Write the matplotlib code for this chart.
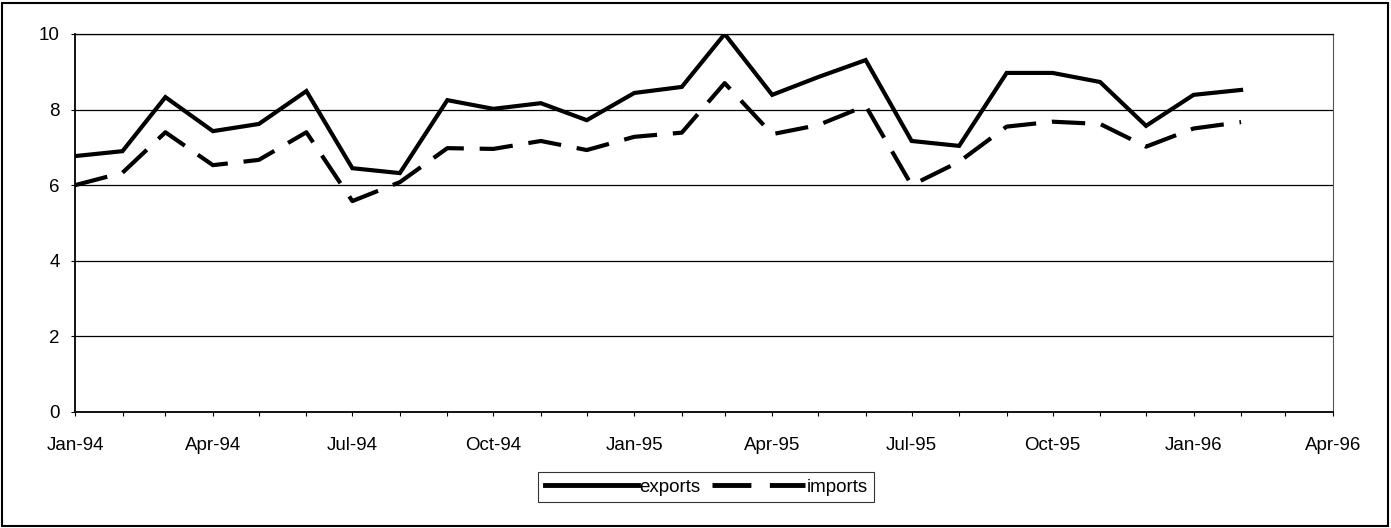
import pandas as pd
import matplotlib.pyplot as plt
import matplotlib.dates as mdates
from matplotlib.patches import Rectangle

plt.rcParams['font.family'] = ['Liberation Sans', 'DejaVu Sans']

# monthly data, Jan-94 .. Feb-96
months = pd.date_range('1994-01-01', '1996-02-01', freq='MS')
exports = [6.77, 6.9, 8.33, 7.43, 7.62, 8.49, 6.45, 6.32, 8.25, 8.02, 8.17, 7.72,
           8.44, 8.6, 10.0, 8.39, 8.86, 9.31, 7.17, 7.04, 8.97, 8.97, 8.73, 7.57,
           8.39, 8.52]
imports = [6.0, 6.33, 7.4, 6.53, 6.67, 7.4, 5.58, 6.08, 6.98, 6.96, 7.17, 6.93,
           7.28, 7.39, 8.7, 7.35, 7.59, 8.1, 6.0, 6.62, 7.55, 7.68, 7.62, 7.02,
           7.5, 7.67]
y_ticks = [0, 2, 4, 6, 8, 10]

fig = plt.figure(figsize=(13.91, 5.28), dpi=100)
ax = fig.add_axes([75 / 1391, 1 - 412 / 528, (1333 - 75) / 1391, (412 - 34) / 528])

ax.plot(months, exports, color='black', lw=3, label='exports', solid_joinstyle='miter')
ax.plot(months, imports, color='black', lw=3, linestyle=(0, (8, 3.8)), label='imports')

ax.set_xlim(pd.Timestamp('1994-01-01'), pd.Timestamp('1996-04-01'))
ax.set_ylim(0, 10)
ax.set_yticks(y_ticks)
ax.yaxis.grid(True, color='black', lw=0.9)
ax.set_axisbelow(True)

ax.xaxis.set_major_locator(mdates.MonthLocator(bymonth=[1, 4, 7, 10]))
ax.xaxis.set_minor_locator(mdates.MonthLocator())
ax.xaxis.set_major_formatter(mdates.DateFormatter('%b-%y'))
ax.tick_params(axis='x', which='both', length=3, width=0.8, labelsize=13.5, pad=15)
ax.tick_params(axis='y', length=3, width=0.8, labelsize=13.5, pad=8)

for s in ['left', 'bottom']:
    ax.spines[s].set_linewidth(1.3)
ax.spines['right'].set_color('#555555')
ax.spines['right'].set_linewidth(0.8)
ax.spines['top'].set_linewidth(0.9)

leg = ax.legend(loc='center', bbox_to_anchor=(706 / 1391, 1 - 487 / 528),
                bbox_transform=fig.transFigure, ncol=2, frameon=True, fancybox=False,
                edgecolor='black', fontsize=13.5, handlelength=5.0, handletextpad=0.05,
                columnspacing=0.6, borderpad=0.35, borderaxespad=0)
leg.get_frame().set_linewidth(0.8)
for h in leg.get_lines():
    h.set_linewidth(3.5)

# outer chart border
fig.patches.append(Rectangle((2 / 1391, 2 / 528), 1386 / 1391, 523 / 528,
                             transform=fig.transFigure, fill=False,
                             edgecolor='black', lw=1.5))

fig.savefig('out.png', dpi=100)
